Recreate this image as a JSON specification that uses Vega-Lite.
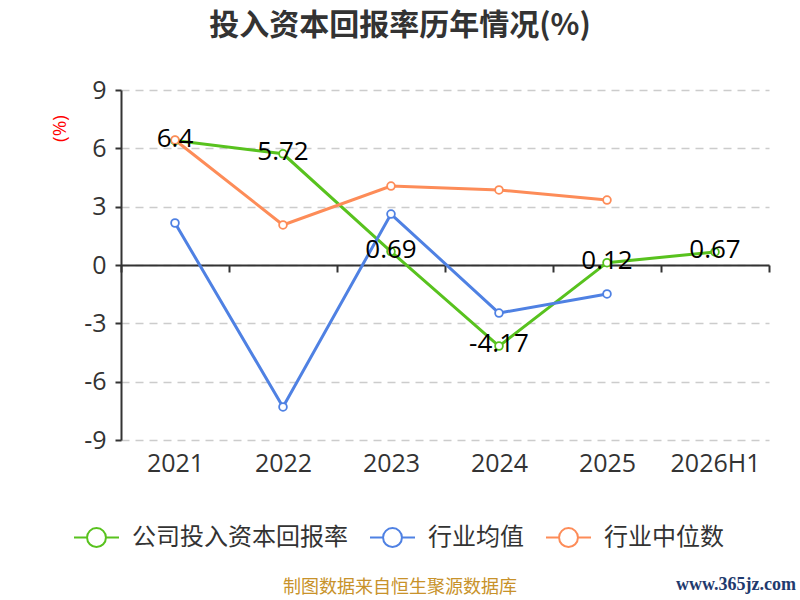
{
  "$schema": "https://vega.github.io/schema/vega-lite/v6.json",
  "autosize": "none",
  "width": 648,
  "height": 350,
  "padding": {"left": 121, "top": 90, "right": 31, "bottom": 160},
  "background": "white",
  "title": {
    "text": "投入资本回报率历年情况(%)",
    "font": "Noto Sans CJK SC",
    "fontSize": 30,
    "fontWeight": "bold",
    "color": "#333333",
    "anchor": "middle",
    "dx": -45,
    "offset": 37
  },
  "config": {
    "view": {"stroke": null},
    "font": "Noto Sans CJK SC"
  },
  "datasets": {
    "roic": [
      {"year": "2021", "series": "公司投入资本回报率", "value": 6.4},
      {"year": "2022", "series": "公司投入资本回报率", "value": 5.72},
      {"year": "2023", "series": "公司投入资本回报率", "value": 0.69},
      {"year": "2024", "series": "公司投入资本回报率", "value": -4.17},
      {"year": "2025", "series": "公司投入资本回报率", "value": 0.12},
      {"year": "2026H1", "series": "公司投入资本回报率", "value": 0.67},
      {"year": "2021", "series": "行业均值", "value": 2.16},
      {"year": "2022", "series": "行业均值", "value": -7.3},
      {"year": "2023", "series": "行业均值", "value": 2.62},
      {"year": "2024", "series": "行业均值", "value": -2.47},
      {"year": "2025", "series": "行业均值", "value": -1.49},
      {"year": "2021", "series": "行业中位数", "value": 6.43},
      {"year": "2022", "series": "行业中位数", "value": 2.06},
      {"year": "2023", "series": "行业中位数", "value": 4.06},
      {"year": "2024", "series": "行业中位数", "value": 3.86},
      {"year": "2025", "series": "行业中位数", "value": 3.34}
    ]
  },
  "layer": [
    {
      "data": {"name": "roic"},
      "encoding": {
        "x": {
          "field": "year",
          "type": "ordinal",
          "bandPosition": 0.5,
          "sort": ["2021", "2022", "2023", "2024", "2025", "2026H1"],
          "scale": {"type": "band", "paddingInner": 0, "paddingOuter": 0,
                    "domain": ["2021", "2022", "2023", "2024", "2025", "2026H1"]},
          "axis": {
            "title": null,
            "offset": -175,
            "tickBand": "extent",
            "tickSize": 7,
            "tickWidth": 2,
            "tickColor": "#333333",
            "domainColor": "#333333",
            "domainWidth": 2,
            "labelAngle": 0,
            "labelFont": "Open Sans",
            "labelFontSize": 25,
            "labelColor": "#333333",
            "labelPadding": 179,
            "grid": false
          }
        },
        "y": {
          "field": "value",
          "type": "quantitative",
          "scale": {"domain": [-9, 9], "nice": false, "zero": false},
          "axis": {
            "values": [-9, -6, -3, 0, 3, 6, 9],
            "labelExpr": "toString(datum.value)",
            "title": "(%)",
            "titleColor": "red",
            "titleFont": "Open Sans",
            "titleFontSize": 19,
            "titleFontWeight": "normal",
            "titleX": -62,
            "titleY": 38,
            "titleAlign": "center",
            "titleBaseline": "middle",
            "domainColor": "#333333",
            "domainWidth": 2,
            "tickColor": "#333333",
            "tickWidth": 2,
            "tickSize": 6,
            "labelFont": "Open Sans",
            "labelFontSize": 25,
            "labelColor": "#333333",
            "labelPadding": 9,
            "grid": true,
            "gridColor": "#cccccc",
            "gridWidth": 1.5,
            "gridDash": [8, 6]
          }
        },
        "color": {
          "field": "series",
          "type": "nominal",
          "scale": {
            "domain": ["公司投入资本回报率", "行业均值", "行业中位数"],
            "range": ["#58c21e", "#4f81e3", "#fd8c58"]
          },
          "legend": {
            "title": null,
            "orient": "none",
            "direction": "horizontal",
            "legendX": -48,
            "legendY": 424,
            "symbolType": "M-1,0L-0.42,0M0.42,0L1,0M-0.42,0A0.42,0.42 0 1,1 0.42,0A0.42,0.42 0 1,1 -0.42,0Z",
            "symbolSize": 2025,
            "symbolStrokeWidth": 2,
            "labelFontSize": 24,
            "labelColor": "#333333",
            "labelOffset": 12,
            "labelLimit": 0,
            "columnPadding": 18,
            "encode": {
              "symbols": {"update": {"fill": {"value": "white"}, "fillOpacity": {"value": 1}}}
            }
          }
        }
      },
      "layer": [
        {
          "mark": {"type": "line", "strokeWidth": 3}
        },
        {
          "mark": {"type": "point", "filled": false, "fill": "white", "fillOpacity": 1, "size": 60, "strokeWidth": 1.8, "opacity": 1}
        },
        {
          "transform": [{"filter": "datum.series === '公司投入资本回报率'"}],
          "mark": {"type": "text", "fontSize": 26, "font": "Open Sans", "baseline": "middle", "dy": -2},
          "encoding": {
            "text": {"field": "value", "type": "nominal"},
            "color": {"value": "black"}
          }
        }
      ]
    },
    {
      "data": {"values": [{"note": "制图数据来自恒生聚源数据库"}]},
      "mark": {"type": "text", "fontSize": 18, "color": "#c8922a", "font": "Noto Sans CJK SC",
               "x": {"expr": "width/2 - 45"}, "y": {"expr": "height + 148"}, "baseline": "middle"},
      "encoding": {"text": {"field": "note"}}
    },
    {
      "data": {"values": [{"note": "www.365jz.com"}]},
      "mark": {"type": "text", "fontSize": 18, "color": "#1f3a6e", "font": "Liberation Serif", "fontWeight": "bold",
               "x": {"expr": "width - 33"}, "y": {"expr": "height + 145"}, "baseline": "middle"},
      "encoding": {"text": {"field": "note"}}
    }
  ]
}
